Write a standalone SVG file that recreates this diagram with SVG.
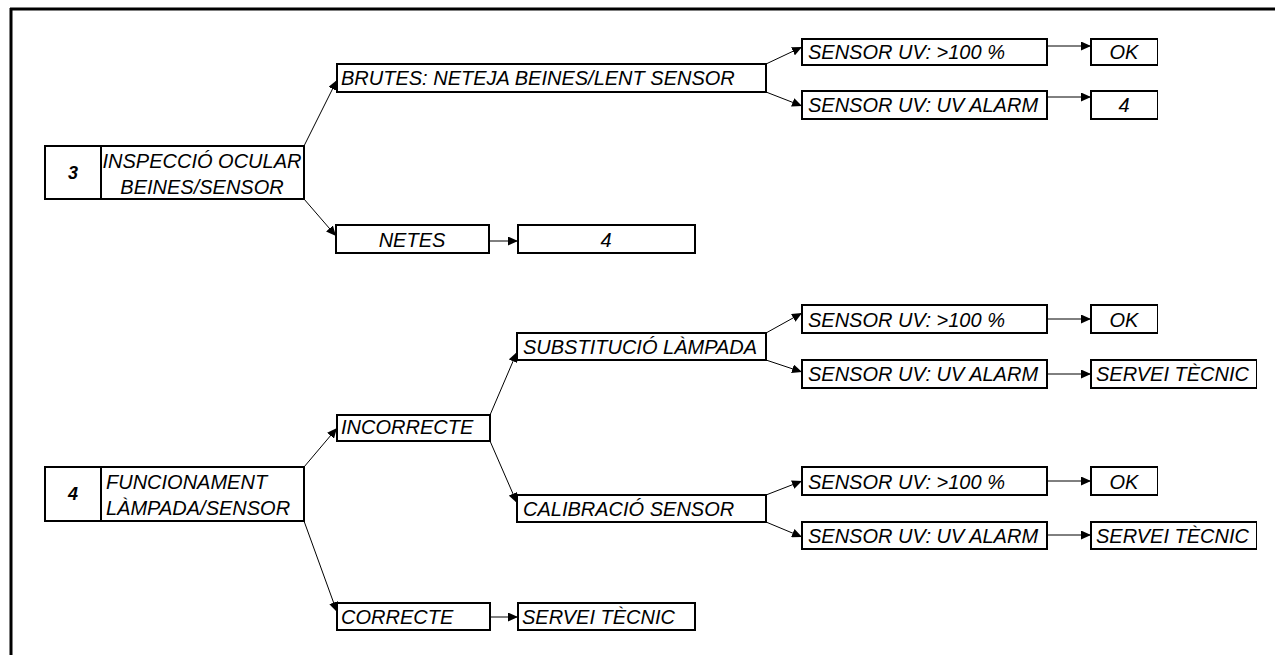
<svg xmlns="http://www.w3.org/2000/svg" width="1275" height="655" viewBox="0 0 1275 655">
<style>
.box{fill:#fff;stroke:#000;stroke-width:2}
.tr{fill:none;stroke:#000;stroke-width:2}
.thin{fill:none;stroke:#000;stroke-width:1}
.t{font-family:"Liberation Sans",Arial,sans-serif;font-style:italic;font-size:20px;fill:#000}
.c{text-anchor:middle}
.n{font-family:"Liberation Sans",Arial,sans-serif;font-style:italic;font-weight:bold;font-size:18px;text-anchor:middle;fill:#000}
.conn line{stroke:#000;stroke-width:1;marker-end:url(#ah)}
</style>
<defs>
<marker id="ah" markerUnits="userSpaceOnUse" markerWidth="11" markerHeight="9" refX="10" refY="4.5" orient="auto">
<path d="M0,0 L10,4.5 L0,9 z" fill="#000"/>
</marker>
</defs>
<rect width="1275" height="655" fill="#fff"/>
<g id="frame">
<line x1="10" y1="9" x2="1275" y2="9" stroke="#000" stroke-width="3"/>
<line x1="11" y1="8" x2="11" y2="655" stroke="#000" stroke-width="3"/>
</g>
<g class="conn" id="connectors">
<line x1="304" y1="146" x2="337" y2="80"/>
<line x1="304" y1="199" x2="336" y2="236"/>
<line x1="489" y1="241" x2="518" y2="241"/>
<line x1="766" y1="64" x2="802" y2="47"/>
<line x1="766" y1="92" x2="802" y2="106"/>
<line x1="1047" y1="46" x2="1091" y2="46"/>
<line x1="1047" y1="97" x2="1091" y2="97"/>
<line x1="304" y1="467" x2="337" y2="428"/>
<line x1="304" y1="521" x2="337" y2="612"/>
<line x1="490" y1="415" x2="517" y2="352"/>
<line x1="490" y1="441" x2="517" y2="503"/>
<line x1="766" y1="333" x2="802" y2="313"/>
<line x1="766" y1="360" x2="802" y2="372"/>
<line x1="766" y1="495" x2="802" y2="481"/>
<line x1="766" y1="522" x2="802" y2="537"/>
<line x1="1047" y1="319" x2="1091" y2="319"/>
<line x1="1047" y1="374" x2="1091" y2="374"/>
<line x1="1047" y1="481" x2="1091" y2="481"/>
<line x1="1047" y1="535" x2="1091" y2="535"/>
<line x1="490" y1="617" x2="518" y2="617"/>
</g>
<g id="n3">
<rect class="box" x="45" y="146" width="259" height="53"/>
<line class="tr" x1="101" y1="146" x2="101" y2="199"/>
<text class="n" x="73" y="179">3</text>
<text class="t c" x="202" y="168">INSPECCIÓ OCULAR</text>
<text class="t c" x="202" y="194">BEINES/SENSOR</text>
</g>
<g id="brutes">
<rect class="box" x="337" y="64" width="429" height="28"/>
<text class="t" x="341" y="85">BRUTES: NETEJA BEINES/LENT SENSOR</text>
</g>
<g id="netes">
<rect class="box" x="336" y="225" width="153" height="28"/>
<text class="t c" x="412" y="247">NETES</text>
</g>
<g id="netes-res">
<rect class="box" x="518" y="225" width="177" height="28"/>
<text class="t c" x="606" y="247">4</text>
</g>
<g id="s1">
<rect class="box" x="802" y="39" width="245" height="26"/>
<text class="t" x="808" y="59">SENSOR UV: &gt;100 %</text>
</g>
<g id="s1-res">
<path class="tr" d="M1158,39 H1091 V65 H1158"/>
<line class="thin" x1="1157.5" y1="39" x2="1157.5" y2="65"/>
<text class="t c" x="1124" y="59">OK</text>
</g>
<g id="s2">
<rect class="box" x="802" y="91" width="245" height="28"/>
<text class="t" x="808" y="112">SENSOR UV: UV ALARM</text>
</g>
<g id="s2-res">
<path class="tr" d="M1158,91 H1091 V119 H1158"/>
<line class="thin" x1="1157.5" y1="91" x2="1157.5" y2="119"/>
<text class="t c" x="1124" y="112">4</text>
</g>
<g id="n4">
<rect class="box" x="45" y="467" width="259" height="54"/>
<line class="tr" x1="101" y1="467" x2="101" y2="521"/>
<text class="n" x="73" y="500">4</text>
<text class="t" x="106" y="489">FUNCIONAMENT</text>
<text class="t" x="106" y="515">LÀMPADA/SENSOR</text>
</g>
<g id="incorrecte">
<rect class="box" x="337" y="415" width="153" height="26"/>
<text class="t" x="341" y="434">INCORRECTE</text>
</g>
<g id="correcte">
<rect class="box" x="337" y="603" width="153" height="27"/>
<text class="t" x="341" y="624">CORRECTE</text>
</g>
<g id="correcte-res">
<rect class="box" x="518" y="603" width="177" height="27"/>
<text class="t" x="522" y="624">SERVEI TÈCNIC</text>
</g>
<g id="subst">
<rect class="box" x="517" y="333" width="249" height="27"/>
<text class="t" x="523" y="354">SUBSTITUCIÓ LÀMPADA</text>
</g>
<g id="calib">
<rect class="box" x="517" y="495" width="249" height="27"/>
<text class="t" x="523" y="516">CALIBRACIÓ SENSOR</text>
</g>
<g id="s3">
<rect class="box" x="802" y="305" width="245" height="28"/>
<text class="t" x="808" y="327">SENSOR UV: &gt;100 %</text>
</g>
<g id="s3-res">
<path class="tr" d="M1158,305 H1091 V333 H1158"/>
<line class="thin" x1="1157.5" y1="305" x2="1157.5" y2="333"/>
<text class="t c" x="1124" y="327">OK</text>
</g>
<g id="s4">
<rect class="box" x="802" y="360" width="245" height="28"/>
<text class="t" x="808" y="381">SENSOR UV: UV ALARM</text>
</g>
<g id="s4-res">
<path class="tr" d="M1257,360 H1091 V388 H1257"/>
<line class="thin" x1="1256.5" y1="360" x2="1256.5" y2="388"/>
<text class="t" x="1096" y="381">SERVEI TÈCNIC</text>
</g>
<g id="s5">
<rect class="box" x="802" y="467" width="245" height="28"/>
<text class="t" x="808" y="489">SENSOR UV: &gt;100 %</text>
</g>
<g id="s5-res">
<path class="tr" d="M1158,467 H1091 V495 H1158"/>
<line class="thin" x1="1157.5" y1="467" x2="1157.5" y2="495"/>
<text class="t c" x="1124" y="489">OK</text>
</g>
<g id="s6">
<rect class="box" x="802" y="522" width="245" height="27"/>
<text class="t" x="808" y="543">SENSOR UV: UV ALARM</text>
</g>
<g id="s6-res">
<path class="tr" d="M1257,522 H1091 V549 H1257"/>
<line class="thin" x1="1256.5" y1="522" x2="1256.5" y2="549"/>
<text class="t" x="1096" y="543">SERVEI TÈCNIC</text>
</g>
</svg>
